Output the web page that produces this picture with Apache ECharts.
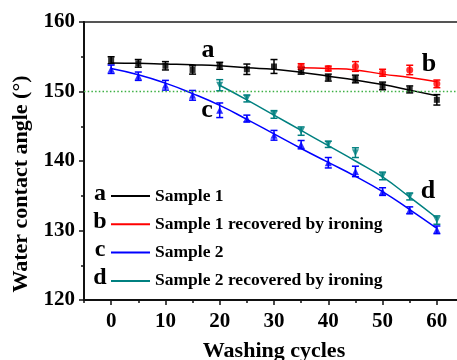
<!DOCTYPE html>
<html>
<head>
<meta charset="utf-8">
<script src="https://cdn.jsdelivr.net/npm/echarts@6/dist/echarts.min.js"></script>
<style>html,body{margin:0;padding:0;background:#fff;}#c{width:457px;height:360px;}</style>
</head>
<body>
<div id="c"></div>
<script>
// ---- data ----
var cycles = [0, 5, 10, 15, 20, 25, 30, 35, 40, 45, 50, 55, 60];
var s1 = [154.5, 154.05, 153.7, 153.1, 153.7, 153.2, 153.6, 153.0, 152.0, 151.8, 150.8, 150.3, 148.8];
var s1Err = [0.5, 0.55, 0.6, 0.6, 0.5, 0.75, 1.0, 0.5, 0.5, 0.55, 0.55, 0.5, 0.75];
var s1Fit = [154.1, 154.05, 153.95, 153.85, 153.7, 153.4, 153.2, 152.75, 152.2, 151.65, 151.0, 150.2, 149.4];

var s1rCycles = [35, 40, 45, 50, 55, 60];
var s1r = [153.6, 153.3, 153.6, 152.7, 153.1, 151.1];
var s1rErr = [0.4, 0.35, 0.7, 0.5, 0.68, 0.55];
var s1rFit = [153.4, 153.3, 153.1, 152.5, 152.0, 151.4];

var s2 = [153.2, 152.2, 150.9, 149.45, 147.3, 146.1, 143.7, 142.35, 139.75, 138.5, 135.6, 132.9, 130.1];
var s2Err = [0.6, 0.6, 0.7, 0.7, 1.05, 0.5, 0.7, 0.6, 0.75, 0.75, 0.55, 0.5, 0.55];
var s2Fit = [153.3, 152.4, 151.2, 149.7, 148.0, 146.0, 143.9, 141.8, 139.8, 137.8, 135.6, 133.0, 130.3];

var s2rCycles = [20, 25, 30, 35, 40, 45, 50, 55, 60];
var s2r = [150.9, 149.0, 146.7, 144.3, 142.4, 141.2, 137.85, 134.9, 131.5];
var s2rErr = [0.8, 0.5, 0.55, 0.6, 0.45, 0.7, 0.55, 0.5, 0.6];
var s2rFit = [150.9, 148.8, 146.6, 144.4, 142.2, 140.0, 137.7, 134.8, 131.8];

var names = ['Sample 1', 'Sample 1 recovered by ironing', 'Sample 2', 'Sample 2 recovered by ironing'];
var letters = ['a', 'b', 'c', 'd'];
var xMajorTicks = [0, 10, 20, 30, 40, 50, 60];
var threshold = 150;

// ---- styling ----
var FONT = '"Liberation Serif", "Times New Roman", serif';
var colors = ['#000000', '#ff0000', '#0000ff', '#008080'];
var symbols = ['rect', 'circle', 'triangle', 'triangle'];
var rotates = [0, 0, 0, 180];
var GREEN = '#3cb043';

function pairs(xs, ys) { return xs.map(function (x, i) { return [x, ys[i]]; }); }
function triples(xs, ys, es) { return xs.map(function (x, i) { return [x, ys[i], es[i]]; }); }

var groups = [
  { x: cycles, y: s1, e: s1Err, fit: s1Fit },
  { x: s1rCycles, y: s1r, e: s1rErr, fit: s1rFit },
  { x: cycles, y: s2, e: s2Err, fit: s2Fit },
  { x: s2rCycles, y: s2r, e: s2rErr, fit: s2rFit }
];

function errRender(color) {
  return function (params, api) {
    var x = api.value(0), y = api.value(1), e = api.value(2);
    var top = api.coord([x, y + e]);
    var bot = api.coord([x, y - e]);
    var h = 3.5;
    var st = { stroke: color, lineWidth: 1.5 };
    return {
      type: 'group',
      children: [
        { type: 'line', shape: { x1: top[0], y1: top[1], x2: bot[0], y2: bot[1] }, style: st },
        { type: 'line', shape: { x1: top[0] - h, y1: top[1], x2: top[0] + h, y2: top[1] }, style: st },
        { type: 'line', shape: { x1: bot[0] - h, y1: bot[1], x2: bot[0] + h, y2: bot[1] }, style: st }
      ]
    };
  };
}

var series = [];
// threshold line (dotted green) at 150
series.push({
  name: 'threshold', type: 'line', data: [], symbol: 'none',
  itemStyle: { color: GREEN }, lineStyle: { color: GREEN },
  markLine: {
    silent: true, symbol: 'none', label: { show: false },
    itemStyle: { color: GREEN },
    lineStyle: { color: GREEN, type: [1.5, 2.2], width: 1.3 },
    data: [{ yAxis: threshold }], animation: false
  },
  z: 1, animation: false
});
groups.forEach(function (g, i) {
  series.push({
    name: names[i], type: 'line', smooth: true, symbol: 'none',
    data: pairs(g.x, g.fit),
    lineStyle: { color: colors[i], width: 1.5 },
    itemStyle: { color: colors[i] },
    z: 2, animation: false
  });
});
groups.forEach(function (g, i) {
  series.push({
    type: 'custom', renderItem: errRender(colors[i]),
    data: triples(g.x, g.y, g.e), z: 3, animation: false, silent: true
  });
  series.push({
    type: 'scatter', symbol: symbols[i], symbolRotate: rotates[i], symbolSize: i === 0 ? 6 : 7,
    data: pairs(g.x, g.y), itemStyle: { color: colors[i] }, z: 4, animation: false, silent: true
  });
});

function txt(t, x, y, size) {
  return {
    type: 'text', x: x, y: y,
    style: { text: t, fontSize: size, fontFamily: FONT, fontWeight: 'bold', fill: '#000', textAlign: 'center', textVerticalAlign: 'middle' }
  };
}
var graphics = [
  txt('a', 208, 50, 26),
  txt('b', 429, 64, 26),
  txt('c', 207, 110, 26),
  txt('d', 428, 191, 26)
];
var legendY = [194, 222, 250, 278];
letters.forEach(function (l, i) { graphics.push(txt(l, 100, legendY[i], 24)); });

var chart = echarts.init(document.getElementById('c'), null, { renderer: 'canvas' });
chart.setOption({
  backgroundColor: '#fff',
  animation: false,
  grid: {
    left: 84, top: 22, right: -7, bottom: 60, containLabel: false, outerBoundsMode: 'none',
    show: true, borderColor: '#555', borderWidth: 2, backgroundColor: 'transparent'
  },
  legend: {
    data: names, orient: 'vertical', left: 111, top: 187, padding: 0,
    icon: 'rect', itemWidth: 39, itemHeight: 2, itemGap: 10.3,
    textStyle: { fontFamily: FONT, fontWeight: 'bold', fontSize: 17.5, color: '#000', lineHeight: 18 },
    selectedMode: false
  },
  xAxis: [
    {
      type: 'value', min: -5, max: 65, interval: 5, position: 'bottom',
      axisLine: { onZero: false, lineStyle: { color: '#111', width: 2 } },
      axisTick: { length: 3, lineStyle: { color: '#111', width: 1.5 } },
      axisLabel: {
        margin: 11, fontFamily: FONT, fontWeight: 'bold', fontSize: 21, color: '#000',
        formatter: function (v) { return (v % 10 === 0 && v >= 0 && v <= 60) ? String(v) : ''; }
      },
      splitLine: { show: false },
      name: 'Washing cycles', nameLocation: 'middle', nameGap: 40,
      nameTextStyle: { fontFamily: FONT, fontWeight: 'bold', fontSize: 22, color: '#000' }
    },
    {
      type: 'value', min: -5, max: 65, position: 'bottom',
      axisLine: { show: false, onZero: false },
      axisTick: { show: true, length: 5, customValues: xMajorTicks, lineStyle: { color: '#111', width: 1.5 } },
      axisLabel: { show: false },
      splitLine: { show: false }
    }
  ],
  yAxis: {
    type: 'value', min: 120, max: 160, interval: 10,
    axisLine: { show: true, onZero: false, lineStyle: { color: '#111', width: 2 } },
    axisTick: { show: true, length: 5, lineStyle: { color: '#111', width: 1.5 } },
    minorTick: { show: true, splitNumber: 2, length: 3, lineStyle: { color: '#111', width: 1.5 } },
    axisLabel: { margin: 9, fontFamily: FONT, fontWeight: 'bold', fontSize: 21, color: '#000' },
    splitLine: { show: false },
    name: 'Water contact angle (°)', nameLocation: 'middle', nameGap: 52,
    nameTextStyle: { fontFamily: FONT, fontWeight: 'bold', fontSize: 22, color: '#000', padding: [0, 46, 0, 0] }
  },
  series: series,
  graphic: graphics
});
</script>
</body>
</html>
